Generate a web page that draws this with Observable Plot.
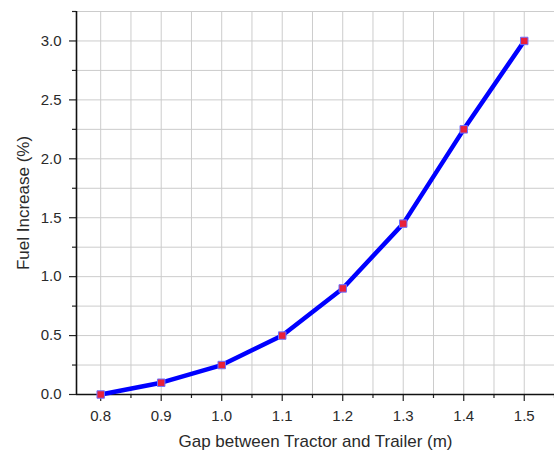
<!DOCTYPE html>
<html><head><meta charset="utf-8">
<script src="https://cdn.jsdelivr.net/npm/d3@7"></script>
<script src="https://cdn.jsdelivr.net/npm/@observablehq/plot@0.6"></script>
<style>body{margin:0;background:#fff;} svg{display:block;}</style>
</head><body><div id="chart"></div>
<script>
const gap = [0.8, 0.9, 1.0, 1.1, 1.2, 1.3, 1.4, 1.5];
const fuel = [0.0, 0.1, 0.25, 0.5, 0.9, 1.45, 2.25, 3.0];
const xMajor = [0.8, 0.9, 1.0, 1.1, 1.2, 1.3, 1.4, 1.5];
const xMinor = [0.85, 0.95, 1.05, 1.15, 1.25, 1.35, 1.45, 1.55];
const yMajor = [0, 0.5, 1.0, 1.5, 2.0, 2.5, 3.0];
const yMinor = [0.25, 0.75, 1.25, 1.75, 2.25, 2.75, 3.25];

const data = gap.map((g, i) => ({gap: g, fuel: fuel[i]}));
const fmt = d3.format(".1f");
const font = "Liberation Sans, Arial, sans-serif";

const chart = Plot.plot({
  width: 554, height: 453,
  marginLeft: 76, marginRight: 0, marginTop: 11, marginBottom: 59,
  style: {fontFamily: font, fontSize: "15px", color: "#2a2a2a", background: "#fff"},
  x: {domain: [0.76, 1.55]},
  y: {domain: [0, 3.25]},
  marks: [
    Plot.ruleX([...xMajor, ...xMinor], {stroke: "#cccccc", strokeWidth: 1}),
    Plot.ruleY([...yMajor, ...yMinor].filter(v => v > 0), {stroke: "#cccccc", strokeWidth: 1}),
    Plot.axisX(xMinor, {tickSize: 4, tickFormat: () => "", stroke: "#222", strokeWidth: 1.2, label: null}),
    Plot.axisX(xMajor, {tickSize: 7, tickPadding: 9, tickFormat: fmt, stroke: "#222", strokeWidth: 1.2, fontSize: 15,
      label: "Gap between Tractor and Trailer (m)", labelAnchor: "center", labelArrow: "none", labelOffset: 52}),
    Plot.axisY(yMinor, {tickSize: 4, tickFormat: () => "", stroke: "#222", strokeWidth: 1.2, label: null}),
    Plot.axisY(yMajor, {tickSize: 7, tickPadding: 8, tickFormat: fmt, stroke: "#222", strokeWidth: 1.2, fontSize: 15,
      label: "Fuel Increase (%)", labelAnchor: "center", labelArrow: "none", labelOffset: 60}),
    Plot.ruleX([0.76], {stroke: "#111", strokeWidth: 1.6}),
    Plot.ruleY([0], {stroke: "#111", strokeWidth: 1.6}),
    Plot.line(data, {x: "gap", y: "fuel", stroke: "#0000ff", strokeWidth: 4.5, curve: "linear"}),
    Plot.dot(data, {x: "gap", y: "fuel", symbol: "square", r: 4.2, fill: "#e8203a", stroke: "#7070ff", strokeWidth: 1})
  ]
});
d3.select(chart).selectAll("g[aria-label$='tick label'] text").attr("font-size", 15).style("font-size", "15px");
d3.select(chart).selectAll("g[aria-label='x-axis label'] text, g[aria-label='y-axis label'] text")
  .attr("font-size", 17).style("font-size", "17px");
document.getElementById("chart").appendChild(chart);
</script></body></html>
